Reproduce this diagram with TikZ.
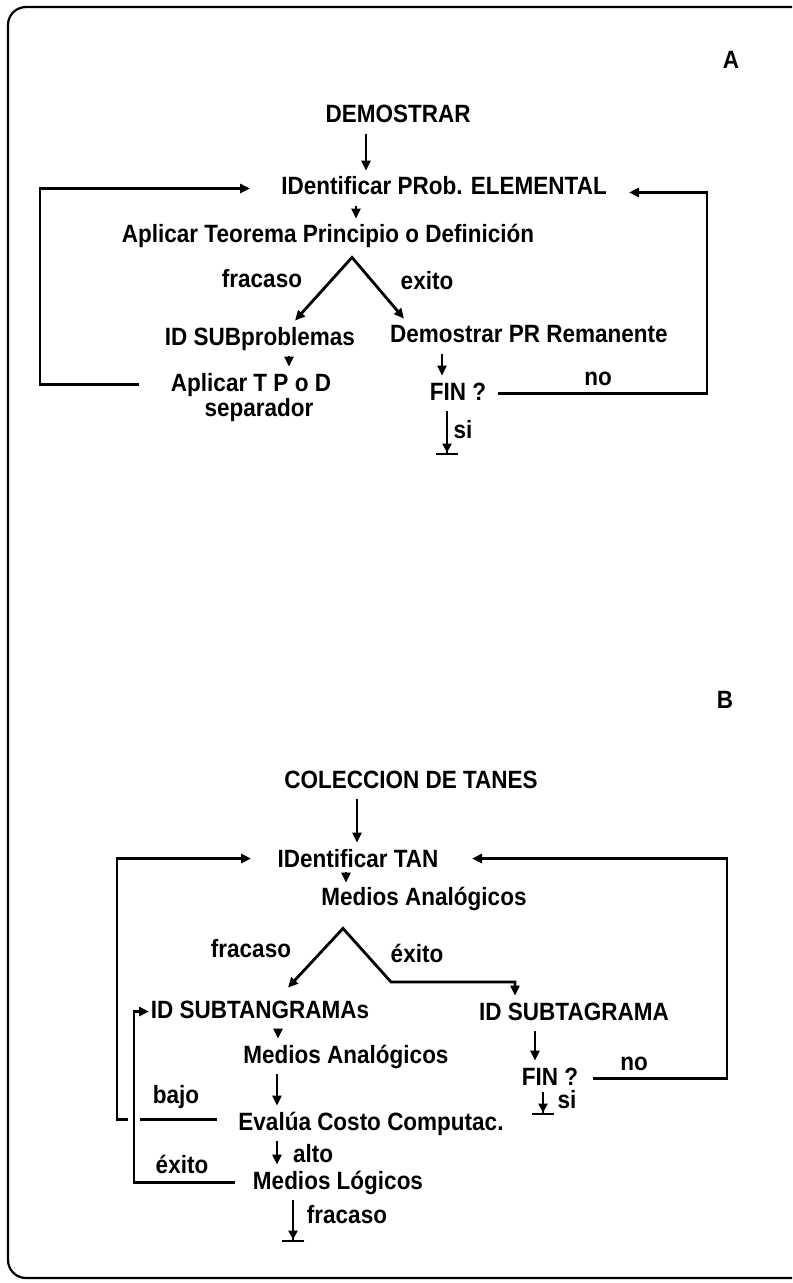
\documentclass[tikz,border=0pt]{standalone}
\usepackage{fontspec}
\setmainfont[FakeStretch=0.9]{Liberation Sans}
\usetikzlibrary{arrows.meta}

\begin{document}
\begin{tikzpicture}[x=0.5pt,y=-0.5pt,
	>={Triangle[length=5pt,width=4.5pt]},
	txt/.style={anchor=base,inner sep=3pt,text height=9pt,text depth=2.5pt,font=\fontsize{12.5}{15}\selectfont\bfseries},
	arr/.style={line width=1.4pt,->},
	tope/.style={line width=1.4pt,-{Triangle[length=4.5pt,width=4.5pt]Bar[width=11pt]}}]

	\useasboundingbox (0,0) rectangle (792,1283);
	\draw[line width=1.1pt,rounded corners=9pt] (792,7) -- (8,7) -- (8,1278) -- (792,1278);

	% A
	\node[txt] (lblA) at (731,69) {A};
	\node[txt] (dem) at (398,123) {DEMOSTRAR};
	\node[txt] (idp) at (444,195) {IDentificar PRob. ELEMENTAL};
	\node[txt] (apl) at (328,243) {Aplicar Teorema Principio o Definición};
	\node[txt] (fraA) at (262,288) {fracaso};
	\node[txt] (exiA) at (427,290) {exito};
	\node[txt] (sub) at (260,345) {ID SUBproblemas};
	\node[txt] (dpr) at (529,343) {Demostrar PR Remanente};
	\node[txt] (atpd) at (251,391) {Aplicar T P o D};
	\node[txt] (sep) at (259,416) {separador};
	\node[txt] (finA) at (458,400) {FIN ?};
	\node[txt] (noA) at (598,385) {no};
	\node[txt] (siA) at (463,438) {si};

	\coordinate (apxA) at ([xshift=12pt,yshift=-1.5pt]apl.south);
	\coordinate (endA) at ([xshift=-5.5pt,yshift=-22pt]finA.south);
	\coordinate (lpA) at (40,300);
	\coordinate (rpA) at (707,300);
	\coordinate (tA1) at (250,0);
	\coordinate (tA2) at (629,0);
	\coordinate (sA1) at (139,0);
	\coordinate (sA2) at (498,0);

	\draw[arr] ([xshift=-16pt]dem.south) -- ([xshift=-39pt]idp.north);
	\draw[arr] ([xshift=-44pt]idp.south) -- ([xshift=14pt]apl.north);
	\draw[arr,<->] ([xshift=17.5pt]sub.north) -- (apxA) -- ([xshift=-62.5pt]dpr.north);
	\draw[arr] ([xshift=14.5pt]sub.south) -- ([xshift=19pt]atpd.north);
	\draw[arr] ([xshift=-43.5pt]dpr.south) -- ([xshift=-8pt]finA.north);
	\draw[tope] ([xshift=-5.5pt]finA.south) -- (endA);
	\draw[arr] (atpd.west -| sA1) -| (lpA) |- (idp.west -| tA1);
	\draw[arr] (finA.east -| sA2) -| (rpA) |- ([yshift=-2pt]idp.east -| tA2);

	% B
	\node[txt] (lblB) at (725,708) {B};
	\node[txt] (col) at (411,788) {COLECCION DE TANES};
	\node[txt] (idt) at (358,867) {IDentificar TAN};
	\node[txt] (med1) at (424,905) {Medios Analógicos};
	\node[txt] (fraB) at (251,957) {fracaso};
	\node[txt] (exiB) at (417,962) {éxito};
	\node[txt] (subt) at (260,1018) {ID SUBTANGRAMAs};
	\node[txt] (subg) at (574,1020) {ID SUBTAGRAMA};
	\node[txt] (med2) at (346,1063) {Medios Analógicos};
	\node[txt] (finB) at (550,1085) {FIN ?};
	\node[txt] (noB) at (634,1070) {no};
	\node[txt] (siB) at (567,1108) {si};
	\node[txt] (bajo) at (176,1103) {bajo};
	\node[txt] (eva) at (371,1130) {Evalúa Costo Computac.};
	\node[txt] (alto) at (313,1162) {alto};
	\node[txt] (exiC) at (182,1173) {éxito};
	\node[txt] (mlog) at (338,1189) {Medios Lógicos};
	\node[txt] (fraC) at (347,1223) {fracaso};

	\coordinate (apxB) at ([xshift=-40.5pt,yshift=-6pt]med1.south);
	\coordinate (kB) at (391,982);
	\coordinate (endB) at ([xshift=-3.5pt,yshift=-9.5pt]finB.south);
	\coordinate (endC) at ([xshift=-22.5pt,yshift=-21pt]mlog.south);
	\coordinate (lpB) at (117,1000);
	\coordinate (lpC) at (134,1100);
	\coordinate (rpB) at (727,1000);
	\coordinate (tB1) at (251,0);
	\coordinate (tB2) at (472,0);
	\coordinate (sB1) at (217,0);
	\coordinate (sB2) at (593,0);
	\coordinate (sC) at (235,0);
	\coordinate (tC) at (149,0);

	\draw[arr] ([xshift=-27pt]col.south) -- ([xshift=-0.5pt]idt.north);
	\draw[arr] ([xshift=-6pt,yshift=3pt]idt.south) -- ([xshift=-39pt,yshift=-1pt]med1.north);
	\draw[arr,<->] ([xshift=14pt,yshift=3pt]subt.north) -- (apxB) -- (kB) -| ([xshift=-29.5pt]subg.north);
	\draw[arr] ([xshift=9pt]subt.south) -- ([xshift=-34pt]med2.north);
	\draw[arr] ([xshift=-19.5pt]subg.south) -- ([xshift=-7.5pt]finB.north);
	\draw[tope] ([xshift=-3.5pt,yshift=2pt]finB.south) -- (endB);
	\draw[arr] ([xshift=-34.5pt]med2.south) -- ([xshift=-47pt]eva.north);
	\draw[arr] ([xshift=-47pt]eva.south) -- ([xshift=-30.5pt]mlog.north);
	\draw[tope] ([xshift=-22.5pt]mlog.south) -- (endC);
	\draw[arr] (finB.east -| sB2) -| (rpB) |- ([yshift=1pt]idt.east -| tB2);
	\draw[arr] ([yshift=2pt]eva.west -| sB1) -| (lpB) |- ([yshift=1pt]idt.west -| tB1);
	\draw[arr,preaction={draw=white,line width=6pt,-}] (mlog.west -| sC) -| (lpC) |- (subt.west -| tC);

\end{tikzpicture}
\end{document}
